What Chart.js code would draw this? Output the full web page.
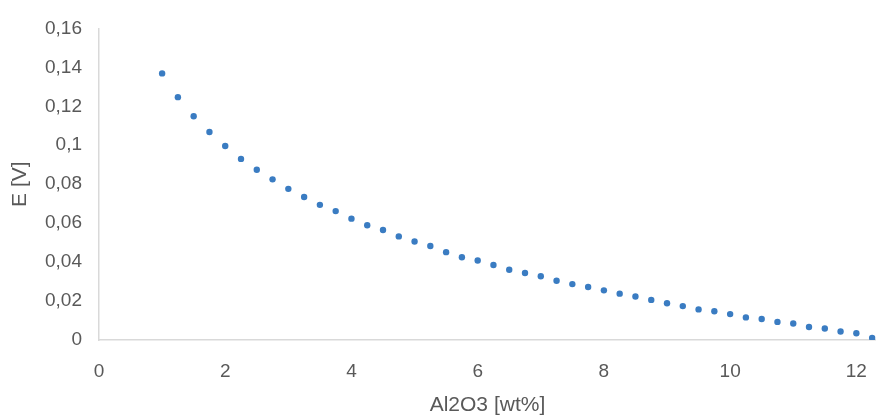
<!DOCTYPE html>
<html>
<head>
<meta charset="utf-8">
<script src="https://cdn.jsdelivr.net/npm/chart.js@4"></script>
<style>
  html, body { margin: 0; padding: 0; background: #ffffff; }
  #wrap { width: 887px; height: 416px; }
</style>
</head>
<body>
<div id="wrap"><canvas id="c" width="887" height="416"></canvas></div>
<script>
const xValues = [1, 1.25, 1.5, 1.75, 2, 2.25, 2.5, 2.75, 3, 3.25, 3.5, 3.75, 4, 4.25, 4.5, 4.75,
  5, 5.25, 5.5, 5.75, 6, 6.25, 6.5, 6.75, 7, 7.25, 7.5, 7.75, 8, 8.25, 8.5, 8.75,
  9, 9.25, 9.5, 9.75, 10, 10.25, 10.5, 10.75, 11, 11.25, 11.5, 11.75, 12, 12.25];
const eValues = [0.1369, 0.1247, 0.1149, 0.1068, 0.0996, 0.0930, 0.0874, 0.0825, 0.0776, 0.0734,
  0.0694, 0.0662, 0.0623, 0.0589, 0.0565, 0.0532, 0.0506, 0.0483, 0.0451, 0.0425,
  0.0408, 0.0385, 0.0361, 0.0344, 0.0327, 0.0304, 0.0287, 0.0272, 0.0255, 0.0238,
  0.0223, 0.0206, 0.0189, 0.0174, 0.0157, 0.0148, 0.0133, 0.0116, 0.0108, 0.0093,
  0.0085, 0.0067, 0.0059, 0.0044, 0.0035, 0.0010];
const xTicks = [0, 2, 4, 6, 8, 10, 12];
const yTicks = [0, 0.02, 0.04, 0.06, 0.08, 0.1, 0.12, 0.14, 0.16];
const xTitle = 'Al2O3 [wt%]';
const yTitle = 'E [V]';

const points = xValues.map((x, i) => ({ x: x, y: eValues[i] }));
const textColor = '#595959';
const axisColor = '#d9d9d9';
const fam = '"Liberation Sans", Arial, sans-serif';

new Chart(document.getElementById('c'), {
  type: 'scatter',
  data: {
    datasets: [{
      data: points,
      backgroundColor: '#3a7cc2',
      borderColor: '#3a7cc2',
      borderWidth: 0,
      pointRadius: 3.2,
      pointHoverRadius: 3.2
    }]
  },
  options: {
    responsive: false,
    animation: false,
    devicePixelRatio: 1,
    layout: { padding: { top: 22, right: 0, left: 0, bottom: 0 } },
    plugins: { legend: { display: false }, tooltip: { enabled: false } },
    scales: {
      x: {
        type: 'linear',
        min: 0,
        max: 12.31,
        afterBuildTicks: (s) => { s.ticks = xTicks.map(v => ({ value: v })); },
        afterFit: (s) => { s.height = 76; },
        grid: { display: false, drawTicks: false },
        border: { display: true, color: axisColor, width: 1.5 },
        ticks: {
          color: textColor,
          font: { family: fam, size: 19 },
          padding: 20,
          maxRotation: 0,
          callback: (v) => String(v)
        },
        title: {
          display: true,
          text: xTitle,
          color: textColor,
          font: { family: fam, size: 21 },
          padding: { top: 0, bottom: -2 }
        }
      },
      y: {
        type: 'linear',
        min: 0,
        max: 0.16,
        afterBuildTicks: (s) => { s.ticks = yTicks.map(v => ({ value: v })); },
        afterFit: (s) => { s.width = 99; },
        grid: { display: false, drawTicks: false },
        border: { display: true, color: axisColor, width: 1.5 },
        ticks: {
          color: textColor,
          font: { family: fam, size: 19 },
          padding: 17,
          callback: (v) => String(Math.round(v * 100) / 100).replace('.', ',')
        },
        title: {
          display: true,
          text: yTitle,
          color: textColor,
          font: { family: fam, size: 21 },
          padding: { top: 8, bottom: 0 }
        }
      }
    }
  }
});
</script>
</body>
</html>
